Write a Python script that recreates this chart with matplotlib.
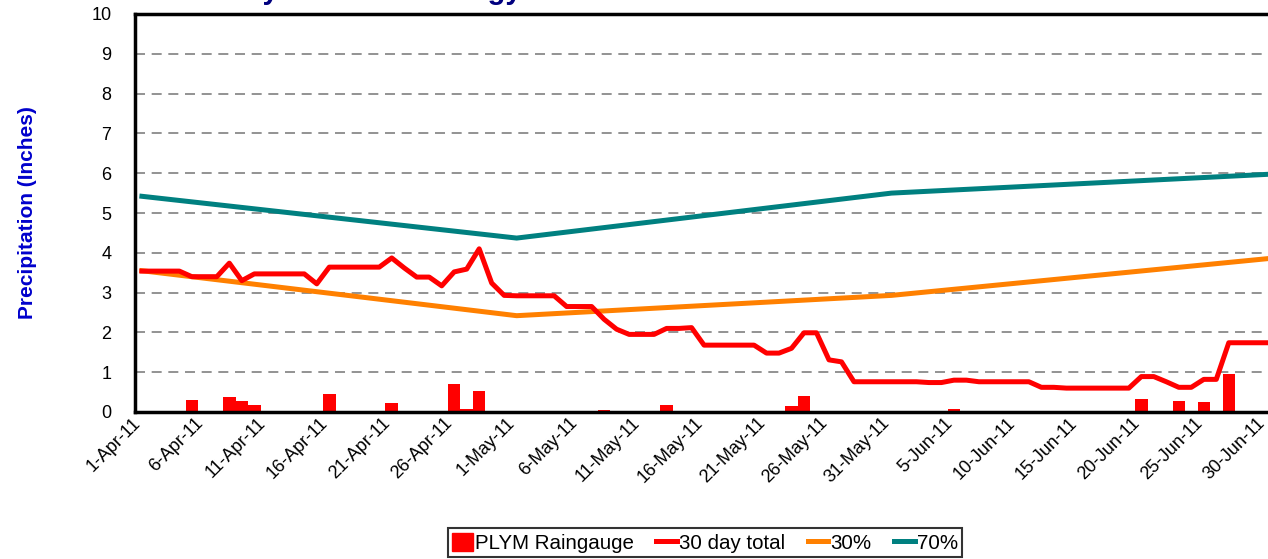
import matplotlib
matplotlib.use("Agg")
import matplotlib.pyplot as plt
import matplotlib.transforms as mtransforms
from matplotlib.patches import Patch
from matplotlib.lines import Line2D
import datetime as dt

plt.rcParams['font.family'] = ['Liberation Sans', 'DejaVu Sans']

# daily rainfall (inches), day 0 = 1-Apr-11
rain_days = [0, 4, 7, 8, 9, 15, 20, 25, 26, 27, 33, 35, 37, 42, 44, 52, 53, 65, 80, 83, 85, 87]
rain_vals = [0.02, 0.30, 0.37, 0.28, 0.18, 0.45, 0.22, 0.70, 0.07, 0.53, 0.02, 0.02, 0.05,
             0.18, 0.02, 0.16, 0.40, 0.08, 0.32, 0.27, 0.25, 0.96]

# 30 day running total, one value per day from 1-Apr-11 to 30-Jun-11
total_30 = [3.54, 3.54, 3.54, 3.54, 3.40, 3.40, 3.40, 3.74, 3.30, 3.47,
            3.47, 3.47, 3.47, 3.47, 3.22, 3.64, 3.64, 3.64, 3.64, 3.64,
            3.87, 3.62, 3.39, 3.39, 3.17, 3.52, 3.59, 4.10, 3.24, 2.93,
            2.92, 2.92, 2.92, 2.92, 2.65, 2.65, 2.65, 2.33, 2.08, 1.95,
            1.95, 1.95, 2.10, 2.10, 2.12, 1.68, 1.68, 1.68, 1.68, 1.68,
            1.48, 1.48, 1.60, 1.99, 1.99, 1.31, 1.26, 0.76, 0.76, 0.76,
            0.76, 0.76, 0.76, 0.74, 0.74, 0.80, 0.80, 0.76, 0.76, 0.76,
            0.76, 0.76, 0.62, 0.62, 0.60, 0.60, 0.60, 0.60, 0.60, 0.60,
            0.89, 0.89, 0.76, 0.62, 0.62, 0.82, 0.82, 1.74, 1.74, 1.74, 1.74]

# percentile curves (monthly points)
pct_days = [0, 30, 60, 90]
pct30 = [3.55, 2.42, 2.93, 3.85]
pct70 = [5.42, 4.37, 5.50, 5.97]

start = dt.date(2011, 4, 1)
tick_days = list(range(0, 91, 5))
tick_labels = [f"{(start + dt.timedelta(d)).day}-{(start + dt.timedelta(d)).strftime('%b')}-11"
               for d in tick_days]

fig = plt.figure(figsize=(12.68, 5.59), dpi=100)
ax = fig.add_axes([135 / 1268, 147 / 559, 1140 / 1268, 398 / 559])

ax.bar(rain_days, rain_vals, width=1.0, color='#FF0000', zorder=2)
ax.plot(range(len(total_30)), total_30, color='#FF0000', lw=3.6, zorder=4)
ax.plot(pct_days, pct30, color='#FF8000', lw=3.6, zorder=3)
ax.plot(pct_days, pct70, color='#008080', lw=3.6, zorder=3)

ax.set_xlim(-0.55, 90.7)
ax.set_ylim(0, 10)
ax.set_yticks(range(0, 11))
ax.set_xticks(tick_days)
ax.set_xticklabels(tick_labels, rotation=45, ha='right', va='center', rotation_mode='anchor')
ax.tick_params(axis='both', length=0, labelsize=13)
ax.tick_params(axis='x', pad=6)
ax.tick_params(axis='y', pad=17)
shift = mtransforms.ScaledTranslation(-3 / 72, 0, fig.dpi_scale_trans)
for lab in ax.get_xticklabels():
    lab.set_transform(lab.get_transform() + shift)
ax.yaxis.grid(True, color='#808080', linestyle=(0, (6, 4)), lw=1.2)
ax.set_axisbelow(True)
for s in ax.spines.values():
    s.set_linewidth(2.5)
    s.set_color('black')

ax.set_ylabel('Precipitation (Inches)', color='#0000CC', fontsize=15, fontweight='bold', labelpad=39)

# clipped title at very top
fig.text(209 / 1268, 1.0 + 1 / 559, 'Daily Rain Chronology', fontsize=21, fontweight='bold',
         color='#00007F', va='baseline', ha='left')

handles = [Patch(color='#FF0000'),
           Line2D([], [], color='#FF0000', lw=3.6),
           Line2D([], [], color='#FF8000', lw=3.6),
           Line2D([], [], color='#008080', lw=3.6)]
leg = fig.legend(handles, ['PLYM Raingauge', '30 day total', '30%', '70%'],
                 loc='lower center', bbox_to_anchor=(705 / 1268, 0.0), ncol=4,
                 fontsize=14.8, frameon=True, fancybox=False, edgecolor='black',
                 handlelength=1.0, handleheight=1.0, handletextpad=0.1, columnspacing=1.1,
                 borderpad=0.2, borderaxespad=0.1)
leg.get_frame().set_linewidth(1.5)

fig.savefig('out.png', dpi=100)
